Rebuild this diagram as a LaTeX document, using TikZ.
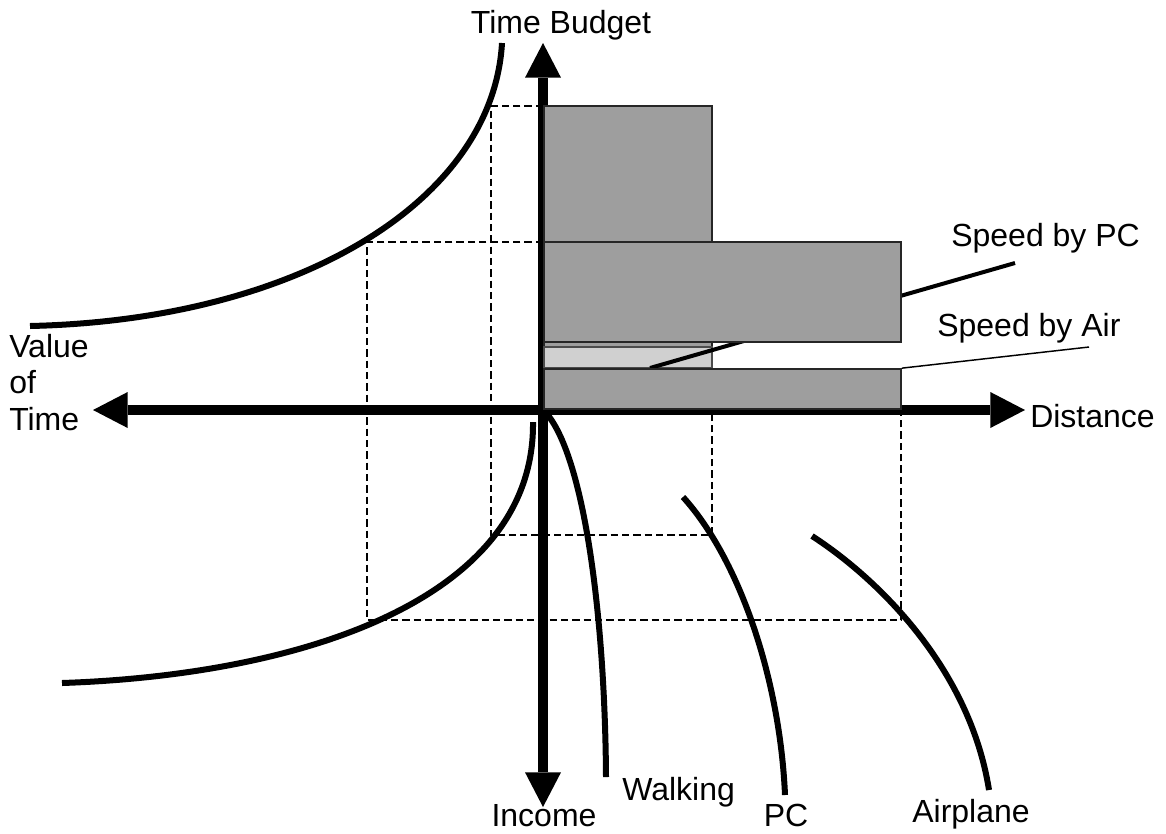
\documentclass[tikz,border=0pt]{standalone}
\usepackage{fontspec}
\setmainfont{Liberation Sans}
\usetikzlibrary{arrows.meta, positioning, fit}
\definecolor{bargray}{HTML}{9E9E9E}
\definecolor{palebar}{HTML}{D0D0D0}
\tikzset{
  axis/.style = {
    line width=7.5pt,
    {Triangle[length=26pt, width=27pt, line width=0pt]}-{Triangle[length=26pt, width=27pt, line width=0pt]}
  },
  barbox/.style = {draw=black!85, fill=bargray, line width=1.3pt, inner sep=0pt},
  palebox/.style = {draw=black!70, fill=palebar, line width=1.1pt, inner sep=0pt},
  guide/.style = {line width=1pt, dash pattern=on 5.5pt off 3pt},
  curve/.style = {line width=4.5pt},
  tagline/.style = {line width=3pt},
  thintag/.style = {line width=1.1pt},
  lbl/.style = {inner sep=0pt, font=\fontsize{24}{27.4}\selectfont},
}

\begin{document}
\begin{tikzpicture}[x=0.75pt, y=-0.75pt]
  \useasboundingbox (0,0) rectangle (1166,833);

  % axis end points
  \coordinate (O) at (543,410);
  \coordinate (xmin) at (93,410);
  \coordinate (xmax) at (1025,410);
  \coordinate (ymax) at (543,43);
  \coordinate (ymin) at (543,807);

  % dashed read-off lines
  \draw[guide] (543,106) -| (491,535) -- (712,535) -- (712,410);
  \draw[guide] (543,242) -| (367,620) -- (901,620) -- (901,410);

  % axes
  \draw[axis] (xmin) -- (xmax);
  \draw[axis] (ymin) -- (ymax);

  % bars, the speed line runs under the PC bar
  \node[barbox, fit={(544,106) (712,409)}] (tallbar) {};
  \node[palebox, fit={(544,347) (712,368)}] (slimbar) {};
  \coordinate (pcfoot) at (650,368);
  \coordinate (pctag) at (1015,263);
  \draw[tagline] (pcfoot) -- (pctag);
  \node[barbox, fit={(544,242) (901,342)}] (pcbar) {};
  \node[barbox, fit={(544,369) (901,409)}] (airbar) {};
  \coordinate (airtag) at (1089,347);
  \draw[thintag] (airbar.north east) -- (airtag);

  % curves
  \draw[curve] (30,326) .. controls (300,320) and (493,200) .. (502,43);
  \draw[curve] (533,422) .. controls (535,600) and (300,675) .. (62,683);
  \draw[curve] (547,414) .. controls (585,460) and (605,620) .. (606,777);
  \draw[curve] (683,497) .. controls (740,560) and (780,680) .. (785,795);
  \draw[curve] (812,536) .. controls (880,580) and (970,670) .. (989,790);

  % labels
  \node[lbl, anchor=base] (tbudget) at (561,33) {Time Budget};
  \node[lbl, anchor=north west, align=left] (vot) at (9,334) {Value\\of\\Time};
  \node[lbl, anchor=base west] (dist) at (1030,427) {Distance};
  \node[lbl, anchor=base west] (pcspeed) at (951,246) {Speed by PC};
  \node[lbl, anchor=base west] (airspeed) at (937,336) {Speed by Air};
  \node[lbl, anchor=base] (income) at (544,826) {Income};
  \node[lbl, anchor=base west] (walk) at (622,800) {Walking};
  \node[lbl, anchor=base] (pclbl) at (786,826) {PC};
  \node[lbl, anchor=base] (plane) at (971,822) {Airplane};
\end{tikzpicture}
\end{document}
